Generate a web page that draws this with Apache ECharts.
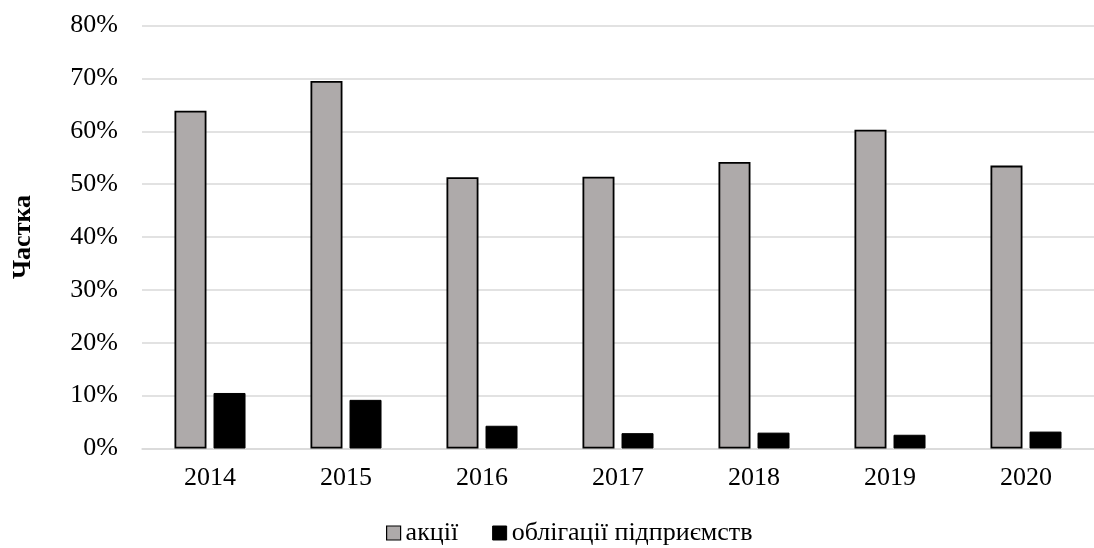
<!DOCTYPE html>
<html>
<head>
<meta charset="utf-8">
<script src="https://cdn.jsdelivr.net/npm/echarts@6/dist/echarts.min.js"></script>
<style>
  html, body { margin: 0; padding: 0; background: #fff; }
  #chart { width: 1094px; height: 548px; }
</style>
</head>
<body>
<div id="chart"></div>
<script>
// Years on the category axis
const years = ['2014', '2015', '2016', '2017', '2018', '2019', '2020'];
// Share of shares (акції), percent
const shares = [63.9, 69.5, 51.3, 51.4, 54.2, 60.3, 53.5];
// Share of corporate bonds (облігації підприємств), percent
const corporateBonds = [10.5, 9.2, 4.3, 2.9, 3.0, 2.6, 3.2];
// Series names shown in the legend
const seriesNames = ['акції', 'облігації підприємств'];
const axisTitle = 'Частка';

const font = 'Liberation Serif, Times New Roman, serif';
const chart = echarts.init(document.getElementById('chart'), null, { renderer: 'canvas' });

chart.setOption({
  animation: false,
  backgroundColor: '#ffffff',
  textStyle: { fontFamily: font },
  grid: { left: 142, top: 25.5, width: 966, height: 423, containLabel: false },
  legend: {
    left: 381,
    top: 515,
    itemWidth: 14,
    itemHeight: 14,
    itemGap: 34,
    textStyle: { fontFamily: font, fontSize: 26, color: '#000' },
    data: [
      { name: seriesNames[0], icon: 'rect', itemStyle: { color: '#AEAAAA', borderColor: '#000', borderWidth: 1.2 } },
      { name: seriesNames[1], icon: 'rect', itemStyle: { color: '#000', borderColor: '#000', borderWidth: 1 } }
    ]
  },
  xAxis: {
    type: 'category',
    data: years,
    boundaryGap: true,
    axisLine: { show: true, lineStyle: { color: '#D9D9D9', width: 1.5 } },
    axisTick: { show: false },
    axisLabel: { color: '#000', fontFamily: font, fontSize: 26, margin: 17 }
  },
  yAxis: {
    type: 'value',
    min: 0,
    max: 80,
    interval: 10,
    name: axisTitle,
    nameLocation: 'middle',
    nameGap: 106,
    nameRotate: 90,
    nameTextStyle: { color: '#000', fontFamily: font, fontSize: 26, fontWeight: 'bold' },
    axisLine: { show: false },
    axisTick: { show: false },
    axisLabel: { color: '#000', fontFamily: font, fontSize: 26, margin: 24, formatter: v => v + '%' },
    splitLine: { show: true, lineStyle: { color: '#D9D9D9', width: 1.5 } }
  },
  series: [
    {
      name: seriesNames[0],
      type: 'bar',
      data: shares,
      barWidth: 32,
      barGap: '22%',
      itemStyle: { color: '#AEAAAA', borderColor: '#000', borderWidth: 1.8 }
    },
    {
      name: seriesNames[1],
      type: 'bar',
      data: corporateBonds,
      barWidth: 32,
      barGap: '22%',
      itemStyle: { color: '#000', borderColor: '#000', borderWidth: 1 }
    }
  ]
});
</script>
</body>
</html>
